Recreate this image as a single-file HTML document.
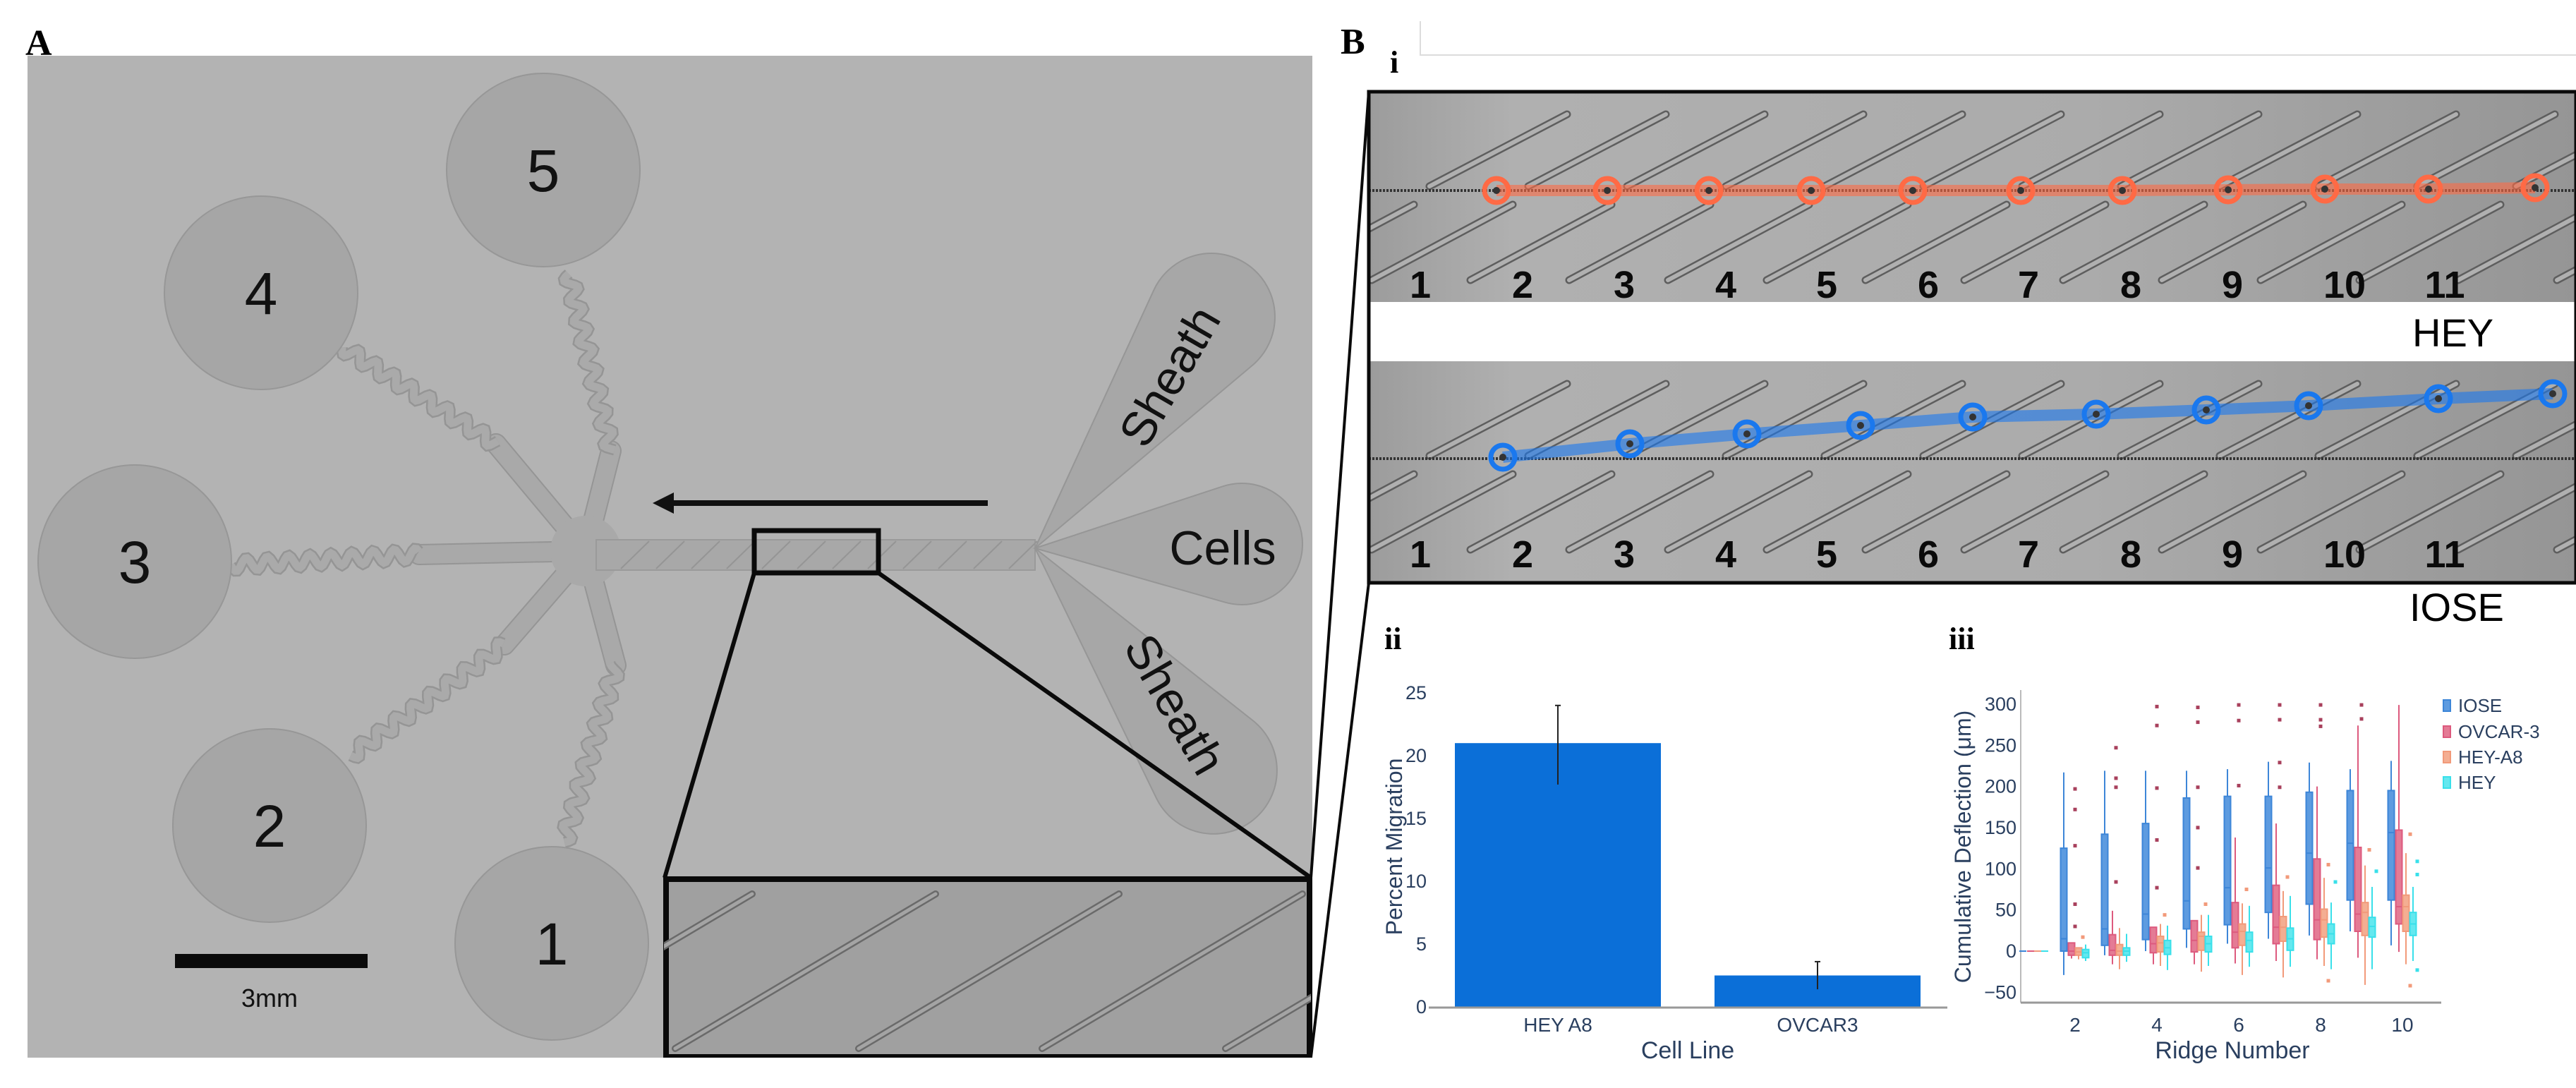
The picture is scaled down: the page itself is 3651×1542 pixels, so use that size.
<!DOCTYPE html>
<html><head><meta charset="utf-8">
<style>
html,body{margin:0;padding:0;background:#fff;}
svg{display:block;}
text{font-family:"Liberation Sans",sans-serif;}
.serif{font-family:"Liberation Serif",serif;font-weight:bold;}
.nar{font-family:"Liberation Sans Narrow","Liberation Sans",sans-serif;}
</style></head>
<body>
<svg id="fig" width="3651" height="1542" viewBox="0 0 3651 1542" xmlns="http://www.w3.org/2000/svg">
<defs>
<clipPath id="clipA"><rect x="39" y="79" width="1821" height="1420"/></clipPath>
<clipPath id="clipS1"><rect x="1940" y="130" width="1710" height="298"/></clipPath>
<clipPath id="clipS2"><rect x="1940" y="512" width="1710" height="313"/></clipPath>
<clipPath id="clipIn"><rect x="941" y="1244" width="917" height="257"/></clipPath>
<linearGradient id="sg" x1="0" x2="1" y1="0" y2="0">
<stop offset="0" stop-color="#9c9c9c"/><stop offset="0.12" stop-color="#b0b0b0"/><stop offset="0.6" stop-color="#ababab"/><stop offset="1" stop-color="#959595"/></linearGradient>
</defs>

<!-- Panel A -->
<text x="36" y="78" class="serif" font-size="52">A</text>
<g id="panelA" clip-path="url(#clipA)">
<rect x="39" y="79" width="1821" height="1420" fill="#b3b3b3"/>
<g id="chanG"></g>
<g id="wellG"></g>
</g>
<!-- Panel B -->
<text x="1900" y="76" class="serif" font-size="52">B</text>
<path d="M2013 30 V78 H3651" fill="none" stroke="#dcdcdc" stroke-width="2"/>
<text x="1970" y="103" class="serif" font-size="44">i</text>
<g id="stripsG"></g>
<text x="3419" y="491" font-size="56">HEY</text>
<text x="3415" y="880" font-size="56">IOSE</text>
<text x="1962" y="920" class="serif" font-size="44">ii</text>
<text x="2762" y="920" class="serif" font-size="44">iii</text>
<g id="barG"></g>
<g id="boxG"></g>
<g id="zoomLines"></g>
</svg>
<script>
const NS='http://www.w3.org/2000/svg';
function mk(parent,tag,attrs,txt){const e=document.createElementNS(NS,tag);for(const k in attrs)e.setAttribute(k,attrs[k]);if(txt!==undefined)e.textContent=txt;parent.appendChild(e);return e;}

/* ---------- Panel A: device ---------- */
const chanG=document.getElementById('chanG'), wellG=document.getElementById('wellG');
const star=[830,781];
function wavy(a,b,amp,wl){const dx=b[0]-a[0],dy=b[1]-a[1],L=Math.hypot(dx,dy),ux=dx/L,uy=dy/L,nx=-uy,ny=ux;let d='';const n=Math.ceil(L/3);for(let i=0;i<=n;i++){const t=i/n*L;const s=amp*Math.sin(t/wl*2*Math.PI);const x=a[0]+ux*t+nx*s,y=a[1]+uy*t+ny*s;d+=(i?'L':'M')+x.toFixed(1)+' '+y.toFixed(1);}return d;}
const chans=[[[806,388],[866,639]],[[485,492],[703,629]],[[327,801],[594,786]],[[497,1071],[715,914]],[[800,1194],[873,943]]];
chans.forEach(c=>{
 let p=mk(chanG,'path',{d:`M${c[1][0]} ${c[1][1]} L${star[0]} ${star[1]}`,stroke:'#959595','stroke-width':30,fill:'none','stroke-linecap':'round'});
 
 mk(chanG,'path',{d:`M${c[1][0]} ${c[1][1]} L${star[0]} ${star[1]}`,stroke:'#a9a9a9','stroke-width':26,fill:'none','stroke-linecap':'round'});
 const w=wavy(c[0],c[1],9,30);
 mk(chanG,'path',{d:w,stroke:'#959595','stroke-width':16,fill:'none'});
 const wp=mk(chanG,'path',{d:w,stroke:'#aaaaaa','stroke-width':11,fill:'none'});
 
});
mk(chanG,'circle',{cx:star[0],cy:star[1],r:50,fill:'#a9a9a9'});
const mc=mk(chanG,'rect',{x:845,y:765,width:622,height:43,fill:'#a8a8a8',stroke:'#9a9a9a','stroke-width':2});

for(let i=0;i<12;i++){const x=880+i*50;mk(chanG,'line',{x1:x,y1:806,x2:x+40,y2:767,stroke:'#959595','stroke-width':2});}
function tear(c,r,tip){const dx=c[0]-tip[0],dy=c[1]-tip[1],D=Math.hypot(dx,dy);const ang=Math.atan2(dy,dx),al=Math.asin(r/D);const tl=Math.sqrt(D*D-r*r);
 const p1=[tip[0]+tl*Math.cos(ang-al),tip[1]+tl*Math.sin(ang-al)],p2=[tip[0]+tl*Math.cos(ang+al),tip[1]+tl*Math.sin(ang+al)];
 return `M${tip[0]} ${tip[1]} L${p1[0].toFixed(1)} ${p1[1].toFixed(1)} A${r} ${r} 0 1 1 ${p2[0].toFixed(1)} ${p2[1].toFixed(1)} Z`;}
const tip=[1467,777];
[[[1717,449],90,'sheath-inlet-top'],[[1760,771],86,'cells-inlet'],[[1720,1092],90,'sheath-inlet-bottom']].forEach(t=>{
 const p=mk(wellG,'path',{d:tear(t[0],t[1],tip),fill:'#a7a7a7',stroke:'#969696','stroke-width':2});
 });
const wells=[[782,1337,'1'],[382,1170,'2'],[191,796,'3'],[370,415,'4'],[770,241,'5']];
wells.forEach(w=>{const c=mk(wellG,'circle',{cx:w[0],cy:w[1],r:137,fill:'#a6a6a6',stroke:'#979797','stroke-width':2});
 
 const t=mk(wellG,'text',{x:w[0],y:w[1]+30,'font-size':84,'text-anchor':'middle',fill:'#111'},w[2]);
 });
let t1=mk(wellG,'text',{x:0,y:0,'font-size':68,'text-anchor':'middle',fill:'#111',transform:'translate(1678,545) rotate(-60)'},'Sheath');

let t2=mk(wellG,'text',{x:0,y:0,'font-size':68,'text-anchor':'middle',fill:'#111',transform:'translate(1645,1010) rotate(60)'},'Sheath');

let t3=mk(wellG,'text',{x:1733,y:800,'font-size':68,'text-anchor':'middle',fill:'#111'},'Cells');

let ar=mk(wellG,'line',{x1:1400,y1:713,x2:950,y2:713,stroke:'#111','stroke-width':8});

mk(wellG,'polygon',{points:'925,713 955,698 955,728',fill:'#111'});
let sb=mk(wellG,'rect',{x:248,y:1352,width:273,height:20,fill:'#0a0a0a'});

mk(wellG,'text',{x:382,y:1427,'font-size':36,'text-anchor':'middle',fill:'#111'},'3mm');
let sbx=mk(wellG,'rect',{x:1069,y:752,width:176,height:60,fill:'none',stroke:'#0a0a0a','stroke-width':7});

mk(wellG,'line',{x1:1069,y1:812,x2:942,y2:1244,stroke:'#0a0a0a','stroke-width':6});
mk(wellG,'line',{x1:1245,y1:812,x2:1858,y2:1244,stroke:'#0a0a0a','stroke-width':6});
let ins=mk(wellG,'rect',{x:944,y:1246,width:912,height:252,fill:'#a0a0a0',stroke:'#0a0a0a','stroke-width':8});

const inG=mk(wellG,'g',{'clip-path':'url(#clipIn)'});
for(let k=-1;k<4;k++){const bx=957+260*k,by=1486;const d=`M${bx} ${by} L${bx+369} ${by-219}`;
 mk(inG,'path',{d:d,stroke:'#6a6a6a','stroke-width':10,'stroke-linecap':'round',fill:'none'});
 mk(inG,'path',{d:d,stroke:'#a4a4a4','stroke-width':5,'stroke-linecap':'round',fill:'none'});}

/* ---------- Panel B i: trajectory strips ---------- */
const stripsG=document.getElementById('stripsG');
const heyX=[2121,2278,2422,2567,2711,2864,3008,3158,3295,3442,3593];
const heyY=[270,270,270,270,270,270,270,269,268,268,266];
const ioseX=[2130,2310,2476,2637,2796,2971,3127,3272,3456,3618];
const ioseY=[648,629,615,603,591,587,581,575,565,558];
const ridgeLabels=['1','2','3','4','5','6','7','8','9','10','11'];
const ridgeLabelX=[2013,2158,2302,2446,2589,2733,2875,3020,3164,3323,3465];
function strip(top,h,clip,lineY,xs,ys,col,name){
 const g=mk(stripsG,'g',{'clip-path':`url(#${clip})`});
 
 mk(g,'rect',{x:1940,y:top,width:1710,height:h,fill:'url(#sg)'});
 for(let k=-1;k<13;k++){const bx=1944+140*k,by=top+267;
  const d1=`M${bx} ${by} L${bx+200} ${by-107}`,d2=`M${bx+222} ${by-133} L${bx+417} ${by-235}`;
  [d1,d2].forEach(d=>{mk(g,'path',{d:d,stroke:'#5e5e5e','stroke-width':11,'stroke-linecap':'round',fill:'none'});
   mk(g,'path',{d:d,stroke:'#b0b0b0','stroke-width':6,'stroke-linecap':'round',fill:'none'});});}
 mk(g,'line',{x1:1940,y1:lineY,x2:3650,y2:lineY,stroke:'#333','stroke-width':4,'stroke-dasharray':'3 2'});
 let pts=xs.map((x,i)=>x+','+ys[i]).join(' ');
 mk(g,'polyline',{points:pts,fill:'none',stroke:col,'stroke-opacity':0.6,'stroke-width':16});
 xs.forEach((x,i)=>{const c=mk(g,'circle',{cx:x,cy:ys[i],r:17,fill:'none',stroke:col,'stroke-width':7});
  
  mk(g,'circle',{cx:x,cy:ys[i],r:5,fill:'#333'});});
 ridgeLabels.forEach((l,i)=>{mk(g,'text',{x:ridgeLabelX[i],y:top+292,'font-size':54,'font-weight':'bold','text-anchor':'middle',fill:'#0a0a0a',class:'nar'},l);});
}
strip(130,298,'clipS1',270,heyX,heyY,'#ff6a45','hey-trajectory-image');
strip(512,313,'clipS2',650,ioseX,ioseY,'#1a78ee','iose-trajectory-image');
mk(stripsG,'rect',{x:1940,y:428,width:1710,height:84,fill:'#fff'});
mk(stripsG,'rect',{x:1940,y:130,width:1711,height:696,fill:'none',stroke:'#0a0a0a','stroke-width':5});
const zl=document.getElementById('zoomLines');
mk(zl,'line',{x1:1940,y1:130,x2:1858,y2:1244,stroke:'#0a0a0a','stroke-width':4});
mk(zl,'line',{x1:1940,y1:826,x2:1858,y2:1498,stroke:'#0a0a0a','stroke-width':4});

/* ---------- Panel B ii: bar chart ---------- */
const barCats=['HEY A8','OVCAR3'];
const barVals=[21.0,2.5];
const barErrHi=[24.0,3.6];
const barErrLo=[17.7,1.4];
const barTicks=[0,5,10,15,20,25];
const barG=document.getElementById('barG');
const bY=v=>1427-v*17.8;
const bX=i=>2208+i*368;
barTicks.forEach(t=>{const e=mk(barG,'text',{x:2022,y:bY(t)+9,'font-size':27,'text-anchor':'end',fill:'#2a3f5f',class:'nar'},String(t));
 });
barCats.forEach((c,i)=>{
 const r=mk(barG,'rect',{x:bX(i)-146,y:bY(barVals[i]),width:292,height:bY(0)-bY(barVals[i]),fill:'#0b6fd8'});
 
 mk(barG,'line',{x1:bX(i),y1:bY(barErrHi[i]),x2:bX(i),y2:bY(barErrLo[i]),stroke:'#222','stroke-width':2});
 mk(barG,'line',{x1:bX(i)-4,y1:bY(barErrHi[i]),x2:bX(i)+4,y2:bY(barErrHi[i]),stroke:'#222','stroke-width':2});
 const l=mk(barG,'text',{x:bX(i),y:1462,'font-size':28,'text-anchor':'middle',fill:'#2a3f5f',class:'nar'},c);
 });
mk(barG,'line',{x1:2025,y1:1428,x2:2760,y2:1428,stroke:'#999','stroke-width':3});
let bxt=mk(barG,'text',{x:2392,y:1500,'font-size':34,'text-anchor':'middle',fill:'#2a3f5f',class:'nar'},'Cell Line');

let byt=mk(barG,'text',{x:0,y:0,'font-size':32,'text-anchor':'middle',fill:'#2a3f5f',transform:'translate(1987,1200) rotate(-90)'},'Percent Migration');


/* ---------- Panel B iii: box plot ---------- */
const ridges=[1,2,3,4,5,6,7,8,9,10];
const seriesNames=['IOSE','OVCAR-3','HEY-A8','HEY'];
const iose_q1=[0,0,7,14,27,32,47,57,62,62];
const iose_med=[0,15,27,45,61,77,101,119,131,144];
const iose_q3=[0,125,142,155,186,188,188,193,195,195];
const iose_lo=[0,-29,-5,0,4,9,15,19,24,7];
const iose_hi=[0,217,219,219,219,221,230,229,221,231];
const ov_q1=[0,-5,-5,-2,-1,4,9,14,24,33];
const ov_med=[0,0,1,9,13,23,29,38,45,54];
const ov_q3=[0,10,20,29,37,59,80,112,126,147];
const ov_lo=[0,-9,-16,-16,-16,-15,-12,-10,-8,-1];
const ov_hi=[0,10,49,29,37,138,155,200,274,299];
const ov_out=[[],[197,172,128,57,30],[247,210,199,84],[297,274,198,135,77],[296,278,199,150,101],[299,280,201],[299,281,229,199],[299,281,273],[299,282],[]];
const a8_q1=[0,-5,-5,-1,1,7,12,17,19,24];
const a8_med=[0,-1,0,10,18,24,29,38,47,54];
const a8_q3=[0,4,8,18,23,33,42,51,59,68];
const a8_lo=[0,-10,-22,-18,-25,-29,-32,-18,-41,-16];
const a8_hi=[0,4,28,33,44,58,73,89,104,119];
const a8_out=[[],[17],[],[44],[57],[75],[90],[105,-36],[123],[142,-42]];
const hey_q1=[0,-8,-5,-4,-1,-1,1,9,17,19];
const hey_med=[0,-2,0,4,9,13,15,21,30,33];
const hey_q3=[0,2,4,13,18,23,28,33,41,47];
const hey_lo=[0,-12,-13,-23,-18,-19,-19,-22,-22,-12];
const hey_hi=[0,8,21,31,44,55,67,59,78,78];
const hey_out=[[],[],[],[],[],[],[],[84],[97],[109,93,-23]];
const boxYTicks=[-50,0,50,100,150,200,250,300];
const boxXTicks=[2,4,6,8,10];
const boxG=document.getElementById('boxG');
const yS=v=>1348-v*1.167;
const xS=r=>2941+(r-2)*58;
const offs=[-16,-5,5,15];
const cols=['#3d86d8','#dd5a7e','#f29a7a','#39e0ea'];
const fills=['#5d9be0','#e47b95','#f4ae92','#64e8ef'];
boxYTicks.forEach(t=>{const e=mk(boxG,'text',{x:2858,y:yS(t)+9,'font-size':27,'text-anchor':'end',fill:'#2a3f5f',class:'nar'},t<0?'\u221250':String(t));
 });
boxXTicks.forEach(t=>{const e=mk(boxG,'text',{x:xS(t),y:1462,'font-size':28,'text-anchor':'middle',fill:'#2a3f5f',class:'nar'},String(t));
 });
mk(boxG,'line',{x1:2864,y1:978,x2:2864,y2:1421,stroke:'#bbb','stroke-width':2});
mk(boxG,'line',{x1:2864,y1:1421,x2:3460,y2:1421,stroke:'#999','stroke-width':3});
const S=[[iose_q1,iose_med,iose_q3,iose_lo,iose_hi,null],[ov_q1,ov_med,ov_q3,ov_lo,ov_hi,ov_out],[a8_q1,a8_med,a8_q3,a8_lo,a8_hi,a8_out],[hey_q1,hey_med,hey_q3,hey_lo,hey_hi,hey_out]];
ridges.forEach((r,i)=>{
 S.forEach((s,j)=>{
  const cx=xS(r)+offs[j];
  if(r===1){mk(boxG,'line',{x1:cx-5,y1:yS(0),x2:cx+5,y2:yS(0),stroke:cols[j],'stroke-width':2});return;}
  mk(boxG,'line',{x1:cx,y1:yS(s[4][i]),x2:cx,y2:yS(s[3][i]),stroke:cols[j],'stroke-width':2});
  const b=mk(boxG,'rect',{x:cx-4.5,y:yS(s[2][i]),width:9,height:Math.max(1,yS(s[0][i])-yS(s[2][i])),fill:fills[j],stroke:cols[j],'stroke-width':2});
  
  
  mk(boxG,'line',{x1:cx-4.5,y1:yS(s[1][i]),x2:cx+4.5,y2:yS(s[1][i]),stroke:cols[j],'stroke-width':2});
 });
 [1,2,3].forEach(j=>{const o=S[j][5][i];o.forEach(v=>{const p=mk(boxG,'rect',{x:xS(r)+offs[j]+(j===1?5:6)-2.5,y:yS(v)-2.5,width:5,height:5,fill:cols[j]==='#dd5a7e'?'#a8405c':cols[j]});
  });});
});
const legY=[1000,1037,1073,1109];
seriesNames.forEach((n,j)=>{mk(boxG,'rect',{x:3463,y:legY[j]-8,width:10,height:16,fill:fills[j],stroke:cols[j],'stroke-width':2});
 const t=mk(boxG,'text',{x:3484,y:legY[j]+9,'font-size':26,fill:'#2a3f5f',class:'nar'},n);
 });
let xt=mk(boxG,'text',{x:3164,y:1500,'font-size':34,'text-anchor':'middle',fill:'#2a3f5f',class:'nar'},'Ridge Number');

let yt=mk(boxG,'text',{x:0,y:0,'font-size':32,'text-anchor':'middle',fill:'#2a3f5f',transform:'translate(2793,1200) rotate(-90)'},'Cumulative Deflection (\u03bcm)');

</script>
</body></html>
